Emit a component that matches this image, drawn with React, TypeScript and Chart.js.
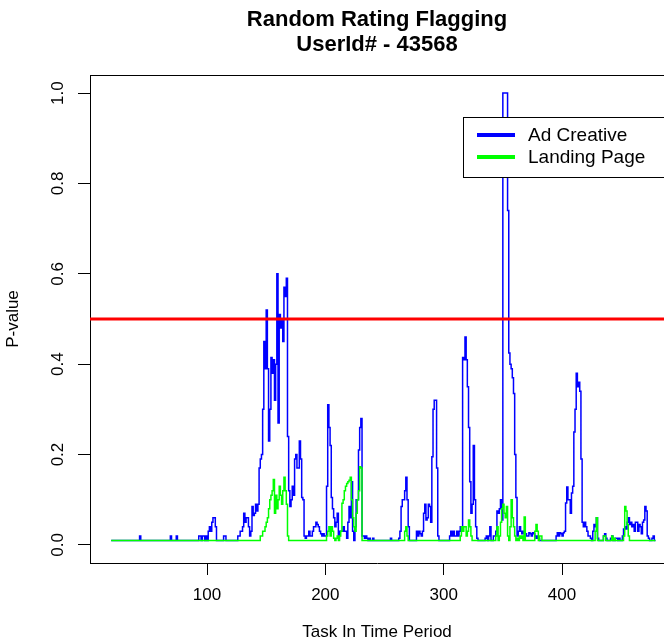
import React, { useEffect, useRef } from "react";
import { Chart, registerables } from "chart.js";

Chart.register(...registerables);

const chartTitle = ["Random Rating Flagging", "UserId# - 43568"];
const xAxisTitle = "Task In Time Period";
const yAxisTitle = "P-value";
const seriesNames = ["Ad Creative", "Landing Page"];
const seriesColors = ["#0000ff", "#00ff00"];
const thresholdColor = "#ff0000";
const threshold = 0.5;
const firstTask = 19;
const xTicks = [100, 200, 300, 400];
const yTicks = [0, 0.2, 0.4, 0.6, 0.8, 1.0];
const xRange = [1.1, 486.2];
const yRange = [-0.04, 1.04];

// tasks 19..479
const adCreative = [
  0.01,
  0.01, 0.01, 0.01, 0.01, 0.01, 0.01, 0.01, 0.01, 0.01, 0.01, // 20
  0.01, 0.01, 0.01, 0.01, 0.01, 0.01, 0.01, 0.01, 0.01, 0.01, // 30
  0.01, 0.01, 0.01, 0.01, 0.02, 0.01, 0.01, 0.01, 0.01, 0.01, // 40
  0.01, 0.01, 0.01, 0.01, 0.01, 0.01, 0.01, 0.01, 0.01, 0.01, // 50
  0.01, 0.01, 0.01, 0.01, 0.01, 0.01, 0.01, 0.01, 0.01, 0.01, // 60
  0.02, 0.01, 0.01, 0.01, 0.01, 0.02, 0.01, 0.01, 0.01, 0.01, // 70
  0.01, 0.01, 0.01, 0.01, 0.01, 0.01, 0.01, 0.01, 0.01, 0.01, // 80
  0.01, 0.01, 0.01, 0.01, 0.02, 0.02, 0.01, 0.02, 0.02, 0.01, // 90
  0.02, 0.01, 0.03, 0.04, 0.03, 0.05, 0.06, 0.06, 0.04, 0.01, // 100
  0.01, 0.01, 0.01, 0.01, 0.01, 0.02, 0.02, 0.01, 0.01, 0.01, // 110
  0.01, 0.01, 0.01, 0.01, 0.01, 0.01, 0.01, 0.02, 0.02, 0.03, // 120
  0.03, 0.04, 0.07, 0.05, 0.06, 0.06, 0.04, 0.02, 0.03, 0.085, // 130
  0.065, 0.07, 0.09, 0.075, 0.09, 0.17, 0.19, 0.2, 0.3, 0.45, // 140
  0.39, 0.52, 0.39, 0.23, 0.3, 0.415, 0.38, 0.41, 0.32, 0.4, // 150
  0.6, 0.27, 0.51, 0.48, 0.5, 0.45, 0.57, 0.55, 0.59, 0.24, // 160
  0.12, 0.085, 0.1, 0.13, 0.11, 0.19, 0.2, 0.17, 0.17, 0.23, // 170
  0.19, 0.105, 0.1, 0.02, 0.015, 0.02, 0.02, 0.03, 0.02, 0.02, // 180
  0.03, 0.04, 0.04, 0.05, 0.045, 0.04, 0.03, 0.025, 0.02, 0.025, // 190
  0.02, 0.02, 0.13, 0.31, 0.26, 0.22, 0.105, 0.08, 0.06, 0.04, // 200
  0.05, 0.07, 0.02, 0.03, 0.03, 0.03, 0.04, 0.03, 0.03, 0.015, // 210
  0.05, 0.085, 0.06, 0.14, 0.03, 0.01, 0.04, 0.1, 0.1, 0.21, // 220
  0.26, 0.28, 0.02, 0.02, 0.015, 0.02, 0.015, 0.01, 0.015, 0.01, // 230
  0.01, 0.015, 0.01, 0.01, 0.01, 0.01, 0.01, 0.01, 0.01, 0.01, // 240
  0.01, 0.01, 0.01, 0.01, 0.01, 0.01, 0.015, 0.01, 0.01, 0.01, // 250
  0.01, 0.01, 0.01, 0.015, 0.03, 0.085, 0.1, 0.1, 0.12, 0.15, // 260
  0.1, 0.04, 0.01, 0.01, 0.01, 0.01, 0.01, 0.01, 0.03, 0.02, // 270
  0.03, 0.025, 0.02, 0.03, 0.07, 0.09, 0.055, 0.06, 0.09, 0.085, // 280
  0.05, 0.195, 0.3, 0.32, 0.32, 0.17, 0.02, 0.01, 0.01, 0.01, // 290
  0.01, 0.01, 0.01, 0.01, 0.01, 0.01, 0.02, 0.03, 0.02, 0.03, // 300
  0.02, 0.02, 0.03, 0.02, 0.03, 0.04, 0.04, 0.415, 0.41, 0.46, // 310
  0.41, 0.35, 0.26, 0.14, 0.07, 0.09, 0.22, 0.1, 0.04, 0.015, // 320
  0.01, 0.01, 0.01, 0.01, 0.01, 0.01, 0.015, 0.02, 0.01, 0.02, // 330
  0.04, 0.01, 0.01, 0.02, 0.02, 0.03, 0.075, 0.07, 0.08, 0.1, // 340
  0.055, 1.0, 1.0, 1.0, 1.0, 0.74, 0.425, 0.4, 0.39, 0.37, // 350
  0.335, 0.2, 0.105, 0.02, 0.03, 0.04, 0.03, 0.025, 0.03, 0.025, // 360
  0.025, 0.02, 0.02, 0.027, 0.025, 0.02, 0.027, 0.025, 0.02, 0.015, // 370
  0.02, 0.015, 0.01, 0.01, 0.01, 0.01, 0.01, 0.01, 0.01, 0.01, // 380
  0.01, 0.01, 0.01, 0.01, 0.01, 0.01, 0.02, 0.027, 0.02, 0.027, // 390
  0.025, 0.02, 0.027, 0.03, 0.093, 0.128, 0.1, 0.1, 0.07, 0.115, // 400
  0.13, 0.25, 0.3, 0.38, 0.35, 0.36, 0.34, 0.19, 0.05, 0.04, // 410
  0.05, 0.04, 0.03, 0.02, 0.02, 0.015, 0.01, 0.03, 0.045, 0.04, // 420
  0.06, 0.015, 0.01, 0.01, 0.01, 0.01, 0.02, 0.025, 0.015, 0.01, // 430
  0.01, 0.01, 0.015, 0.02, 0.01, 0.01, 0.015, 0.015, 0.01, 0.015, // 440
  0.01, 0.01, 0.02, 0.035, 0.04, 0.035, 0.05, 0.06, 0.045, 0.05, // 450
  0.04, 0.045, 0.03, 0.05, 0.05, 0.03, 0.045, 0.04, 0.025, 0.05, // 460
  0.055, 0.085, 0.075, 0.02, 0.015, 0.01, 0.01, 0.015, 0.02, 0.01, // 470
];

const landingPage = [
  0.01,
  0.01, 0.01, 0.01, 0.01, 0.01, 0.01, 0.01, 0.01, 0.01, 0.01, // 20
  0.01, 0.01, 0.01, 0.01, 0.01, 0.01, 0.01, 0.01, 0.01, 0.01, // 30
  0.01, 0.01, 0.01, 0.01, 0.01, 0.01, 0.01, 0.01, 0.01, 0.01, // 40
  0.01, 0.01, 0.01, 0.01, 0.01, 0.01, 0.01, 0.01, 0.01, 0.01, // 50
  0.01, 0.01, 0.01, 0.01, 0.01, 0.01, 0.01, 0.01, 0.01, 0.01, // 60
  0.01, 0.01, 0.01, 0.01, 0.01, 0.01, 0.01, 0.01, 0.01, 0.01, // 70
  0.01, 0.01, 0.01, 0.01, 0.01, 0.01, 0.01, 0.01, 0.01, 0.01, // 80
  0.01, 0.01, 0.01, 0.01, 0.01, 0.01, 0.01, 0.01, 0.01, 0.01, // 90
  0.01, 0.01, 0.01, 0.01, 0.01, 0.01, 0.01, 0.01, 0.01, 0.01, // 100
  0.01, 0.01, 0.01, 0.01, 0.01, 0.01, 0.01, 0.01, 0.01, 0.01, // 110
  0.01, 0.01, 0.01, 0.01, 0.01, 0.01, 0.01, 0.01, 0.01, 0.01, // 120
  0.01, 0.01, 0.01, 0.01, 0.01, 0.01, 0.01, 0.01, 0.01, 0.01, // 130
  0.01, 0.01, 0.01, 0.01, 0.01, 0.01, 0.02, 0.02, 0.03, 0.03, // 140
  0.04, 0.05, 0.06, 0.08, 0.1, 0.11, 0.12, 0.145, 0.07, 0.11, // 150
  0.08, 0.1, 0.13, 0.11, 0.09, 0.12, 0.15, 0.12, 0.09, 0.02, // 160
  0.01, 0.01, 0.01, 0.01, 0.01, 0.01, 0.01, 0.01, 0.01, 0.01, // 170
  0.01, 0.01, 0.01, 0.01, 0.01, 0.01, 0.01, 0.01, 0.01, 0.01, // 180
  0.01, 0.01, 0.01, 0.01, 0.01, 0.01, 0.01, 0.01, 0.01, 0.01, // 190
  0.01, 0.01, 0.02, 0.03, 0.04, 0.02, 0.04, 0.03, 0.015, 0.01, // 200
  0.015, 0.02, 0.01, 0.02, 0.03, 0.092, 0.1, 0.12, 0.13, 0.136, // 210
  0.14, 0.143, 0.15, 0.1, 0.06, 0.04, 0.03, 0.07, 0.1, 0.12, // 220
  0.173, 0.17, 0.01, 0.01, 0.01, 0.01, 0.01, 0.01, 0.01, 0.01, // 230
  0.01, 0.01, 0.01, 0.01, 0.01, 0.01, 0.01, 0.01, 0.01, 0.01, // 240
  0.01, 0.01, 0.01, 0.01, 0.01, 0.01, 0.01, 0.01, 0.01, 0.01, // 250
  0.01, 0.01, 0.01, 0.01, 0.01, 0.01, 0.01, 0.01, 0.03, 0.04, // 260
  0.02, 0.01, 0.01, 0.01, 0.01, 0.01, 0.01, 0.01, 0.01, 0.01, // 270
  0.01, 0.01, 0.01, 0.01, 0.01, 0.01, 0.01, 0.01, 0.01, 0.01, // 280
  0.01, 0.01, 0.01, 0.01, 0.01, 0.01, 0.01, 0.01, 0.01, 0.01, // 290
  0.01, 0.01, 0.01, 0.01, 0.01, 0.01, 0.01, 0.01, 0.01, 0.01, // 300
  0.01, 0.01, 0.01, 0.01, 0.01, 0.02, 0.04, 0.03, 0.04, 0.04, // 310
  0.02, 0.03, 0.055, 0.04, 0.02, 0.01, 0.01, 0.01, 0.01, 0.01, // 320
  0.01, 0.01, 0.01, 0.01, 0.01, 0.01, 0.01, 0.01, 0.01, 0.01, // 330
  0.01, 0.01, 0.01, 0.01, 0.01, 0.02, 0.04, 0.01, 0.02, 0.05, // 340
  0.08, 0.09, 0.07, 0.06, 0.085, 0.02, 0.01, 0.04, 0.1, 0.06, // 350
  0.04, 0.02, 0.01, 0.015, 0.01, 0.02, 0.015, 0.02, 0.01, 0.062, // 360
  0.01, 0.01, 0.01, 0.01, 0.01, 0.01, 0.01, 0.01, 0.03, 0.045, // 370
  0.03, 0.01, 0.02, 0.02, 0.01, 0.01, 0.01, 0.01, 0.01, 0.01, // 380
  0.01, 0.01, 0.01, 0.01, 0.01, 0.01, 0.01, 0.01, 0.01, 0.01, // 390
  0.01, 0.01, 0.01, 0.01, 0.01, 0.01, 0.01, 0.01, 0.01, 0.01, // 400
  0.01, 0.01, 0.01, 0.01, 0.01, 0.01, 0.01, 0.01, 0.01, 0.01, // 410
  0.01, 0.01, 0.01, 0.01, 0.01, 0.01, 0.01, 0.01, 0.01, 0.03, // 420
  0.06, 0.01, 0.01, 0.01, 0.01, 0.01, 0.02, 0.02, 0.01, 0.01, // 430
  0.01, 0.01, 0.01, 0.02, 0.01, 0.015, 0.01, 0.01, 0.01, 0.01, // 440
  0.01, 0.01, 0.01, 0.02, 0.085, 0.075, 0.045, 0.02, 0.01, 0.01, // 450
  0.01, 0.01, 0.01, 0.01, 0.01, 0.01, 0.01, 0.01, 0.01, 0.01, // 460
  0.01, 0.01, 0.01, 0.01, 0.01, 0.01, 0.01, 0.01, 0.01, 0.01, // 470
];

const FONT = "'Liberation Sans', Arial, Helvetica, sans-serif";

const overlayPlugin = {
  id: "rOverlay",
  afterDatasetsDraw(chart: any) {
    const { ctx, chartArea, scales } = chart;
    const y = scales.y;
    ctx.save();
    ctx.beginPath();
    ctx.rect(chartArea.left, chartArea.top, chartArea.right - chartArea.left, chartArea.bottom - chartArea.top);
    ctx.clip();
    const ty = y.getPixelForValue(threshold);
    ctx.strokeStyle = thresholdColor;
    ctx.lineWidth = 3;
    ctx.beginPath();
    ctx.moveTo(chartArea.left, ty);
    ctx.lineTo(chartArea.right, ty);
    ctx.stroke();
    ctx.restore();

    ctx.save();
    ctx.strokeStyle = "#000";
    ctx.lineWidth = 1;
    ctx.beginPath();
    ctx.moveTo(chartArea.left, chartArea.top + 0.5);
    ctx.lineTo(chartArea.right, chartArea.top + 0.5);
    ctx.stroke();

    const lx = chartArea.left + 373;
    const ly = chartArea.top + 42;
    const lh = 60;
    ctx.fillStyle = "#fff";
    ctx.fillRect(lx, ly, 400, lh);
    ctx.strokeStyle = "#000";
    ctx.strokeRect(lx + 0.5, ly + 0.5, 400, lh);
    ctx.font = `19px ${FONT}`;
    ctx.textBaseline = "middle";
    ctx.textAlign = "left";
    seriesNames.forEach((name, i) => {
      const yy = ly + 18 + i * 22;
      ctx.strokeStyle = seriesColors[i];
      ctx.lineWidth = 4;
      ctx.beginPath();
      ctx.moveTo(lx + 14, yy);
      ctx.lineTo(lx + 52, yy);
      ctx.stroke();
      ctx.fillStyle = "#000";
      ctx.fillText(name, lx + 65, yy + 1);
    });
    ctx.restore();
  },
};

export default function App() {
  const ref = useRef<HTMLCanvasElement>(null);
  useEffect(() => {
    const canvas = ref.current;
    if (!canvas) return;
    const toPoints = (arr: number[]) => arr.map((v, i) => ({ x: firstTask + i, y: v }));
    const chart = new Chart(canvas, {
      type: "line",
      data: {
        datasets: [
          {
            label: seriesNames[1],
            data: toPoints(landingPage),
            borderColor: seriesColors[1],
            borderWidth: 1.5,
            pointRadius: 0,
            stepped: "after",
            fill: false,
            order: 0,
          },
          {
            label: seriesNames[0],
            data: toPoints(adCreative),
            borderColor: seriesColors[0],
            borderWidth: 1.5,
            pointRadius: 0,
            stepped: "after",
            fill: false,
            order: 1,
          },
        ],
      },
      options: {
        responsive: false,
        animation: false,
        devicePixelRatio: 1,
        layout: { padding: 0 },
        events: [],
        plugins: {
          legend: { display: false },
          tooltip: { enabled: false },
          title: {
            display: true,
            text: chartTitle,
            fullSize: false,
            color: "#000",
            font: { family: FONT, size: 22, weight: "bold", lineHeight: 25 / 22 },
            padding: { top: 7.5, bottom: 17.5 },
          },
        },
        scales: {
          x: {
            type: "linear",
            min: xRange[0],
            max: xRange[1],
            afterFit: (s: any) => {
              s.height = 80;
            },
            afterBuildTicks: (s: any) => {
              s.ticks = xTicks.map((v) => ({ value: v }));
            },
            grid: { drawOnChartArea: false, drawTicks: true, tickLength: 12, tickColor: "#000", tickWidth: 1 },
            border: { display: true, color: "#000", width: 1 },
            ticks: {
              color: "#000",
              font: { family: FONT, size: 17 },
              padding: 10,
              maxRotation: 0,
              autoSkip: false,
              callback: (v: any) => String(v),
            },
            title: {
              display: true,
              text: xAxisTitle,
              color: "#000",
              font: { family: FONT, size: 17 },
              padding: { top: 0, bottom: 0 },
            },
          },
          y: {
            type: "linear",
            min: yRange[0],
            max: yRange[1],
            afterFit: (s: any) => {
              s.width = 90;
            },
            afterBuildTicks: (s: any) => {
              s.ticks = yTicks.map((v) => ({ value: v }));
            },
            grid: { drawOnChartArea: false, drawTicks: true, tickLength: 12, tickColor: "#000", tickWidth: 1 },
            border: { display: true, color: "#000", width: 1 },
            ticks: {
              color: "#000",
              font: { family: FONT, size: 17 },
              padding: 8,
              minRotation: 90,
              maxRotation: 90,
              crossAlign: "center",
              autoSkip: false,
              callback: (v: any) => Number(v).toFixed(1),
            },
            title: {
              display: true,
              text: yAxisTitle,
              color: "#000",
              font: { family: FONT, size: 17 },
              padding: { top: 3, bottom: 0 },
            },
          },
        },
      },
      plugins: [overlayPlugin],
    } as any);
    return () => chart.destroy();
  }, []);
  return (
    <div style={{ position: "absolute", left: 0, top: 0, width: 664, height: 643, background: "#fff" }}>
      <canvas ref={ref} width={664} height={643} style={{ display: "block" }} />
    </div>
  );
}
